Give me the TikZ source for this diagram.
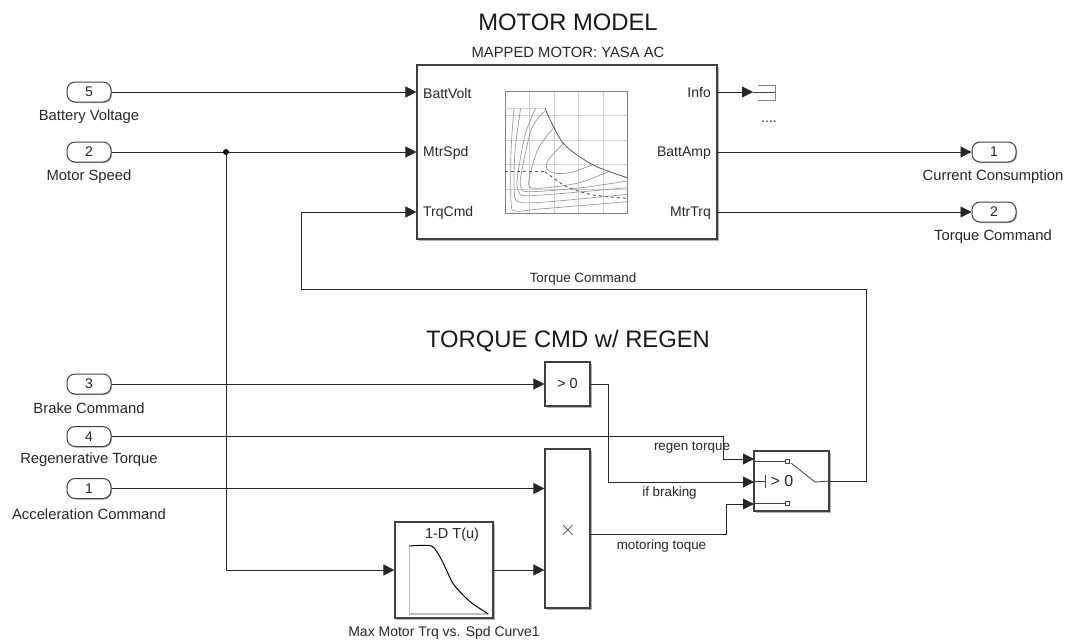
\documentclass[tikz,border=0pt]{standalone}
\usepackage{fontspec}
\setmainfont{Liberation Sans}
\usetikzlibrary{arrows.meta,shadows}
\tikzset{
  sig/.style={draw=black!85,line width=0.8pt,-{Triangle[length=11pt,width=11pt]}},
  wire/.style={draw=black!75,line width=0.8pt},
  blk/.style={draw=black!75,line width=1.2pt,fill=white,inner sep=0pt,
    drop shadow={shadow xshift=1.5pt,shadow yshift=-1.5pt,opacity=.3,fill=black}},
  port/.style={draw=black!75,line width=1pt,fill=white,rounded corners=8pt,inner sep=0pt,
    minimum width=44pt,minimum height=20pt,font=\fontsize{14}{14}\selectfont,text=black!85,
    drop shadow={shadow xshift=1pt,shadow yshift=-1pt,opacity=.3,fill=black}},
  lbl/.style={font=\fontsize{14.8}{14.8}\selectfont,text=black!85,inner sep=0pt},
  prt/.style={font=\fontsize{14}{14}\selectfont,text=black!85,inner sep=0pt},
  sml/.style={font=\fontsize{13.4}{13.4}\selectfont,text=black!85,inner sep=0pt},
  ttl/.style={font=\fontsize{23.8}{23.8}\selectfont,text=black!90,inner sep=0pt},
  grid/.style={draw=black!18,line width=0.7pt},
  frm/.style={draw=black!50,line width=0.9pt},
  crv/.style={draw=black!42,line width=0.65pt,smooth,tension=.5}
}
\begin{document}
\begin{tikzpicture}[x=1pt,y=-1pt]
  \useasboundingbox (0,0) rectangle (1069,640);
  \node[ttl] (mtitle) at (568,22) {MOTOR MODEL};
  \node[lbl] (msub) at (568,52) {MAPPED MOTOR: YASA AC};
  \node[ttl] (rtitle) at (568,341) {TORQUE CMD w/ REGEN};

  \node[blk,minimum width=300pt,minimum height=174pt] (motor) at (567,152) {};
  \node[blk,minimum width=45pt,minimum height=44pt,font=\fontsize{14.5}{14.5}\selectfont,text=black!85] (cmp) at (567.5,384) {> 0};
  \node[blk,minimum width=45pt,minimum height=159pt] (prod) at (567.5,528.5) {};
  \node[blk,minimum width=98pt,minimum height=96pt] (lut) at (444,570) {};
  \node[blk,minimum width=75pt,minimum height=60pt] (sw) at (791.5,481) {};

  \node[port] (bv) at (89,92) {5};
  \node[port] (spd) at (89,152) {2};
  \node[port] (brk) at (89,384) {3};
  \node[port] (rgn) at (89,436.5) {4};
  \node[port] (acc) at (89,488.5) {1};
  \node[port] (cur) at (994,152) {1};
  \node[port] (trq) at (994,212) {2};

  \node[lbl] (bvl) at (89,117) {Battery Voltage};
  \node[lbl] (spdl) at (89,177) {Motor Speed};
  \node[lbl] (brkl) at (89,408) {Brake Command};
  \node[lbl] (rgnl) at (89,460) {Regenerative Torque};
  \node[lbl] (accl) at (89,514) {Acceleration Command};
  \node[lbl] (curl) at (993,177) {Current Consumption};
  \node[lbl] (trql) at (993,237) {Torque Command};
  \node[prt] (lutl) at (444,633) {Max Motor Trq vs. Spd Curve1};

  \node[prt,anchor=west] (pbv) at (423,93) {BattVolt};
  \node[prt,anchor=west] (pspd) at (423,153) {MtrSpd};
  \node[prt,anchor=west] (pcmd) at (423,213) {TrqCmd};
  \node[prt,anchor=east] (pinfo) at (711,93) {Info};
  \node[prt,anchor=east] (pamp) at (711,153) {BattAmp};
  \node[prt,anchor=east] (ptrq) at (711,213) {MtrTrq};
  \node[prt] (dots) at (769,122) {....};

  \node[sml] (tcl) at (583,279) {Torque Command};
  \node[sml] (rtl) at (692,448) {regen torque};
  \node[sml] (ibl) at (669.5,493) {if braking};
  \node[sml] (mtl) at (661.5,546) {motoring toque};
  \node[prt,font=\fontsize{14.5}{14.5}\selectfont] (tu) at (452,535) {1-D T(u)};
  \node[prt,font=\fontsize{16}{16}\selectfont] (gt) at (782,481) {> 0};
  \node[inner sep=0pt,text=black!75,font=\fontsize{22}{22}\selectfont] (mul) at (568,530) {$\times$};

  \coordinate (jn) at (226,152);
  \coordinate (term) at (753,92);
  \draw[sig] (bv.east) -- (bv -| motor.west);
  \draw[sig] (spd.east) -- (spd -| motor.west);
  \fill[black] (jn) circle (3pt);
  \draw[sig] (jn) |- (lut.west);
  \draw[sig] (motor.east |- term) -- (term);
  \draw[sig] (motor.east |- cur) -- (cur.west);
  \draw[sig] (motor.east |- trq) -- (trq.west);
  \draw[sig] (brk.east) -- (brk -| cmp.west);
  \draw[sig] (acc.east) -- (acc -| prod.west);
  \draw[sig] (lut.east) -- (lut -| prod.west);
  \draw[sig] (rgn.east) -- (723,436.5) |- (754,459);
  \draw[sig] (cmp.east) -- (608,384) |- (754,482);
  \draw[sig] (590,534) -- (726,534) |- (754,504);
  \draw[sig] (sw.east) -- (866,481) |- (301,289) |- (trq -| motor.west);

  \draw[frm] (758,85) -- (775,85) -- (775,100) -- (758,100);
  \draw[wire] (753,92) -- (775,92);

  \foreach \px in {529.5,554,578.5,603}
    \draw[grid] (\px,91) -- (\px,213);
  \foreach \py in {115.5,140,164.5,189}
    \draw[grid] (505,\py) -- (627,\py);
  \draw[frm] (505,91) rectangle (627,213);
  \begin{scope}[shift={(500,85)},x=1pt/3,y=-1pt/3]
    \draw[grid] (15,70) -- (135,70);
    \draw[crv] plot coordinates {(42,70) (33,200) (33,350) (45,378) (120,372) (382,350)};
    \draw[crv] plot coordinates {(62,70) (45,200) (43,325) (60,352) (150,350) (382,328)};
    \draw[crv] plot coordinates {(107,70) (75,150) (52,280) (55,318) (75,332) (190,325) (382,308)};
    \draw[crv] plot coordinates {(135,78) (95,130) (65,260) (62,305) (85,320) (230,310) (382,288)};
    \draw[crv] plot coordinates {(160,130) (115,190) (88,280) (100,310) (230,295) (330,258)};
    \draw[crv] plot coordinates {(190,175) (145,225) (140,250) (165,265) (215,262) (280,238)};
    \draw[draw=black!65,line width=0.8pt,smooth] plot coordinates {(135,70) (190,175) (280,240) (382,278)};
    \draw[draw=black!65,line width=0.9pt,dashed] (15,260) -- (135,260);
    \draw[draw=black!65,line width=0.9pt,dashed,smooth] plot coordinates {(135,260) (200,305) (280,330) (382,340)};
  \end{scope}
  \begin{scope}[shift={(380,510)},x=1pt/3,y=-1pt/3]
    \draw[draw=black!25,line width=1.1pt] (88,108) -- (88,312) -- (325,312);
    \draw[draw=black,line width=1pt] plot[smooth,tension=.4] coordinates {(88,108) (155,108) (185,150) (220,222) (270,275) (325,312)};
  \end{scope}

  \draw[wire] (754,461.5) -- (785,461.5);
  \draw[wire] (754,503) -- (785,503);
  \draw[wire,fill=white] (785,459.5) rectangle (789.5,463.5);
  \draw[wire,fill=white] (785,501) rectangle (789.5,505);
  \draw[wire] (791,463) -- (815,482) -- (sw.east);
  \draw[wire] (754,481) -- (765,481);
  \draw[wire] (765,475) -- (765,488);
\end{tikzpicture}
\end{document}
